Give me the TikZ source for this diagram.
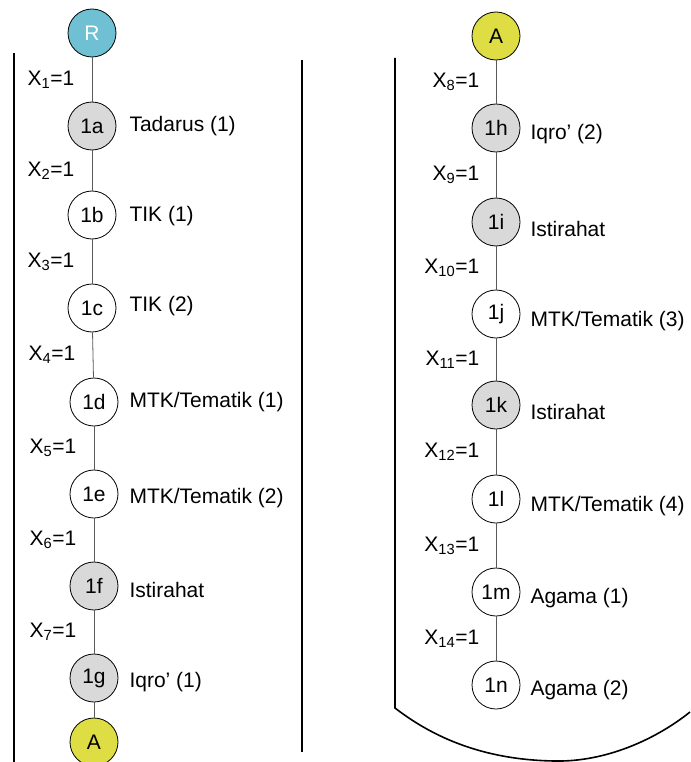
\documentclass[tikz,border=0pt]{standalone}
\usepackage{fontspec}
\setmainfont{Liberation Sans}
\definecolor{rootblue}{RGB}{112,192,212}
\definecolor{linkyellow}{RGB}{222,222,68}
\definecolor{breakgray}{RGB}{217,217,217}

\begin{document}
\begin{tikzpicture}[x=1pt,y=-1pt,
  every node/.style={font=\fontsize{21}{25}\selectfont},
  slot/.style={circle,draw,minimum size=48pt,inner sep=0pt,line width=0.8pt},
  subject/.style={anchor=west},
  link/.style={draw=black!65,line width=0.8pt},
  frame/.style={line width=1.6pt}]
\useasboundingbox (0,0) rectangle (690,762);

% first column
\node[slot,fill=rootblue,text=white] (R) at (92,33) {R};
\node[slot,fill=breakgray] (1a) at (92,126) {1a};
\node[slot,fill=white] (1b) at (92,215) {1b};
\node[slot,fill=white] (1c) at (92,308) {1c};
\node[slot,fill=white] (1d) at (94,402) {1d};
\node[slot,fill=white] (1e) at (94,494) {1e};
\node[slot,fill=breakgray] (1f) at (94,586) {1f};
\node[slot,fill=breakgray] (1g) at (94,678) {1g};
\node[slot,fill=linkyellow] (A1) at (94,742) {A};

\node[subject] (s1a) at (126,126) {Tadarus (1)};
\node[subject] (s1b) at (126,216) {TIK (1)};
\node[subject] (s1c) at (126,306) {TIK (2)};
\node[subject] (s1d) at (126,402) {MTK/Tematik (1)};
\node[subject] (s1e) at (126,498) {MTK/Tematik (2)};
\node[subject] (s1f) at (126,590) {Istirahat};
\node[subject] (s1g) at (126,682) {Iqro’ (1)};

\draw[link] (R) -- node[left=14pt] {X\textsubscript{1}=1} (1a);
\draw[link] (1a) -- node[left=14pt] {X\textsubscript{2}=1} (1b);
\draw[link] (1b) -- node[left=14pt] {X\textsubscript{3}=1} (1c);
\draw[link] (1c) -- node[left=14pt] {X\textsubscript{4}=1} (1d);
\draw[link] (1d) -- node[left=14pt] {X\textsubscript{5}=1} (1e);
\draw[link] (1e) -- node[left=14pt] {X\textsubscript{6}=1} (1f);
\draw[link] (1f) -- node[left=14pt] {X\textsubscript{7}=1} (1g);
\draw[link] (1g) -- (A1);

% second column
\node[slot,fill=linkyellow] (A2) at (496,36) {A};
\node[slot,fill=breakgray] (1h) at (496,128) {1h};
\node[slot,fill=breakgray] (1i) at (496,222) {1i};
\node[slot,fill=white] (1j) at (496,314) {1j};
\node[slot,fill=breakgray] (1k) at (496,405) {1k};
\node[slot,fill=white] (1l) at (496,499) {1l};
\node[slot,fill=white] (1m) at (496,592) {1m};
\node[slot,fill=white] (1n) at (496,685) {1n};

\node[subject] (s1h) at (527,134) {Iqro’ (2)};
\node[subject] (s1i) at (527,229) {Istirahat};
\node[subject] (s1j) at (527,321) {MTK/Tematik (3)};
\node[subject] (s1k) at (527,412) {Istirahat};
\node[subject] (s1l) at (527,506) {MTK/Tematik (4)};
\node[subject] (s1m) at (527,598) {Agama (1)};
\node[subject] (s1n) at (527,690) {Agama (2)};

\draw[link] (A2) -- node[left=13pt] {X\textsubscript{8}=1} (1h);
\draw[link] (1h) -- node[left=13pt] {X\textsubscript{9}=1} (1i);
\draw[link] (1i) -- node[left=13pt] {X\textsubscript{10}=1} (1j);
\draw[link] (1j) -- node[left=13pt] {X\textsubscript{11}=1} (1k);
\draw[link] (1k) -- node[left=13pt] {X\textsubscript{12}=1} (1l);
\draw[link] (1l) -- node[left=13pt] {X\textsubscript{13}=1} (1m);
\draw[link] (1m) -- node[left=13pt] {X\textsubscript{14}=1} (1n);

% brackets
\draw[frame] (14,53) -- (14,762);
\draw[frame] (302,60) -- (302,752);
\draw[frame] (395,58) -- (395,708)
  .. controls (430,735) and (480,760) .. (555,761)
  .. controls (605,762) and (655,740) .. (690,712);
\end{tikzpicture}
\end{document}
